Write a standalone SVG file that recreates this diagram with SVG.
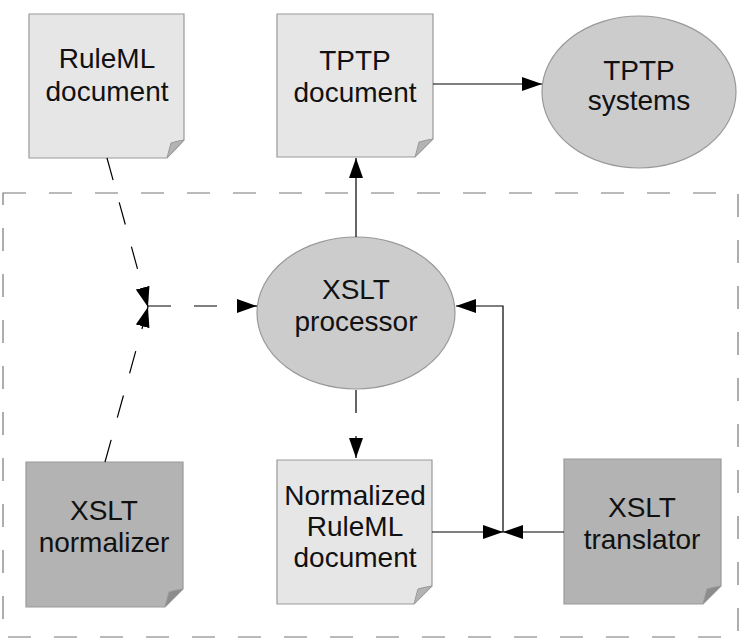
<svg xmlns="http://www.w3.org/2000/svg" width="740" height="639" viewBox="0 0 740 639">
<style>
.doc-l{fill:#e6e6e6;stroke:#999;stroke-width:1.2}
.doc-d{fill:#b3b3b3;stroke:#999;stroke-width:1.2}
.fold-l{fill:#b3b3b3;stroke:#999;stroke-width:1}
.fold-d{fill:#8c8c8c;stroke:#999;stroke-width:1}
.ell{fill:#cccccc;stroke:#999;stroke-width:1.2}
.t{font-family:"Liberation Sans",Arial,sans-serif;font-size:28px;fill:#111;text-anchor:middle}
.c{fill:none;stroke:#000;stroke-width:1.2}
.dash{stroke-dasharray:23 23}
.frame{fill:none;stroke:#777;stroke-width:1.2;stroke-dasharray:23 23}
</style>
<defs>
<marker id="ah" markerUnits="userSpaceOnUse" markerWidth="20" markerHeight="14" refX="20" refY="7" orient="auto" viewBox="0 0 20 14">
<path d="M0,0 L20,7 L0,14 Z" fill="#000"/>
</marker>
</defs>
<rect class="frame" x="3" y="193" width="735" height="444"/>
<g id="ruleml-doc">
<path class="doc-l" d="M29,14 H184 V140 L167,158 H29 Z"/>
<path class="fold-l" d="M184,140 Q177,141 171,143 Q169,150 167,158 Z"/>
<text class="t" x="107" y="68">RuleML</text>
<text class="t" x="107" y="101">document</text>
</g>
<g id="tptp-doc">
<path class="doc-l" d="M277,14 H433 V139 L415,157 H277 Z"/>
<path class="fold-l" d="M433,139 Q426,140 419,142 Q417,150 415,157 Z"/>
<text class="t" x="355" y="70">TPTP</text>
<text class="t" x="355" y="102">document</text>
</g>
<g id="tptp-systems">
<ellipse class="ell" cx="639" cy="92" rx="97" ry="76"/>
<text class="t" x="639" y="80">TPTP</text>
<text class="t" x="639" y="110">systems</text>
</g>
<g id="xslt-processor">
<ellipse class="ell" cx="356" cy="313" rx="99" ry="76"/>
<text class="t" x="356" y="299">XSLT</text>
<text class="t" x="356" y="331">processor</text>
</g>
<g id="normalized-doc">
<path class="doc-l" d="M277,460 H432 V586 L414,604 H277 Z"/>
<path class="fold-l" d="M432,586 Q425,587 418,589 Q416,596 414,604 Z"/>
<text class="t" x="355" y="505">Normalized</text>
<text class="t" x="355" y="536">RuleML</text>
<text class="t" x="355" y="567">document</text>
</g>
<g id="xslt-normalizer">
<path class="doc-d" d="M26,462 H183 V589 L165,607 H26 Z"/>
<path class="fold-d" d="M183,589 Q176,590 169,592 Q167,599 165,607 Z"/>
<text class="t" x="104" y="520">XSLT</text>
<text class="t" x="104" y="552">normalizer</text>
</g>
<g id="xslt-translator">
<path class="doc-d" d="M564,459 H721 V586 L703,604 H564 Z"/>
<path class="fold-d" d="M721,586 Q714,587 707,589 Q705,596 703,604 Z"/>
<text class="t" x="642" y="517">XSLT</text>
<text class="t" x="642" y="549">translator</text>
</g>
<g id="connectors">
<path class="c" d="M433,84 H542" marker-end="url(#ah)"/>
<path class="c" d="M356,237 V158" marker-end="url(#ah)"/>
<path class="c dash" d="M356,390 V458" marker-end="url(#ah)"/>
<path class="c dash" d="M107,158 L148,307" marker-end="url(#ah)"/>
<path class="c dash" d="M105,462 L148,307" marker-end="url(#ah)"/>
<path class="c dash" d="M148,306 H257" marker-end="url(#ah)"/>
<path class="c" d="M432,532 H503" marker-end="url(#ah)"/>
<path class="c" d="M564,532 H503" marker-end="url(#ah)"/>
<path class="c" d="M503,532 V306 H456" marker-end="url(#ah)"/>
</g>
</svg>
